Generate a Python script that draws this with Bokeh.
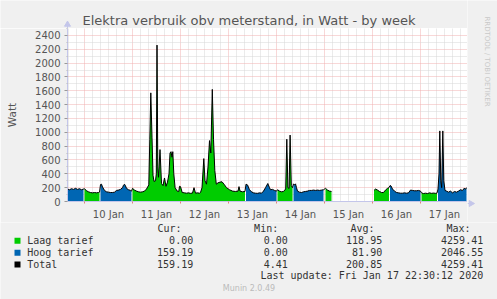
import math
from bokeh.plotting import figure
from bokeh.layouts import column, row
from bokeh.models import Range1d, FixedTicker, Label
from bokeh.embed import file_html
from bokeh.resources import INLINE

# ---------------- data (hours since Jan 10 2020 00:00) ----------------
title_text = "Elektra verbruik obv meterstand, in Watt - by week"
y_label = "Watt"
day_labels = ["10 Jan", "11 Jan", "12 Jan", "13 Jan", "14 Jan", "15 Jan", "16 Jan", "17 Jan"]
day_label_hours = [12, 36, 60, 84, 108, 132, 156, 180]
midnight_hours = [0, 24, 48, 72, 96, 120, 144, 168]
y_ticks = [0, 200, 400, 600, 800, 1000, 1200, 1400, 1600, 1800, 2000, 2200, 2400]

hours = (
    [-8.5, -7.5, -6.5, -5.5, -4.5, -3.5, -2.5, -1.5, -0.5]
    + [0, 1, 2, 3, 4, 5, 6, 7, 7.5]
    + [8, 8.5, 9, 10, 11, 12, 13, 14, 15, 16, 17, 18, 19, 19.5, 20, 20.5, 21, 22, 23, 23.5]
    + [24, 25, 26, 27, 28, 29, 30, 31, 32.15, 32.65, 33.15, 33.75, 34.25, 34.75,
       35.5, 35.9, 36.25, 36.65, 37, 37.75, 38.5, 39.25, 40, 40.75, 41.5,
       42.25, 42.75, 43.25, 43.75, 44.15, 44.65, 45.3, 46.35, 47.15, 47.5, 48, 48.85,
       50, 51, 52, 53, 54, 54.75, 55.5, 56.5, 57.5, 58, 58.75,
       59.65, 60.25, 61, 61.75, 62.5, 63.15, 63.9, 64.5, 65.15, 65.9, 66.75,
       67.75, 68.75, 69.75, 71, 72.5, 74, 75.5, 76.75, 77.25, 77.75, 79, 80.25]
    + [80.75, 81.5, 82.5, 83.5, 84.5, 85.5, 86.5, 87.5, 88.5, 89.5, 90.5, 91.65, 92.5, 93, 94, 95, 96]
    + [96.5, 97.5, 98.5, 99.5, 100.6, 101.15, 101.7, 102.3, 102.8, 103.4, 104]
    + [104.5, 105, 105.5, 106, 106.5, 107.5, 108.5, 109.5, 110.5, 111.5, 112.5, 113.5,
       114.5, 115.5, 116.5, 117.5, 118.5, 119.5]
    + [120.5, 121.5, 122.5, 123.5]
    + [134]
    + [144.75, 145.5, 146.5, 147.5, 148.5, 149.5, 150.5, 151.5, 152.25]
    + [152.75, 153.25, 154, 155, 156, 157, 158, 159, 160, 161, 162, 163, 164, 165, 166, 167, 168]
    + [168.5, 169.5, 170.5, 171.5, 172.5, 173.5, 174.5, 175.5, 176.25]
    + [176.75, 177.25, 177.65, 178.15, 178.6, 179.15, 179.65, 180.25, 181, 182, 183, 184,
       185, 186, 187, 188, 189, 190, 190.5, 191]
)

laag_tarief = (
    [None] * 9
    + [185, 155, 140, 130, 125, 130, 125, 130, 135]
    + [None] * 20
    + [190, 165, 150, 140, 135, 140, 150, 180, 240, 900, 1570, 930, 380, 290,
       300, 400, 2260, 500, 350, 750, 260, 230, 340, 220, 280,
       400, 700, 720, 640, 720, 400, 200, 150, 145, 220, 215, 130,
       125, 120, 125, 118, 122, 200, 120, 125, 120, 130, 200,
       620, 300, 250, 500, 880, 700, 1620, 900, 450, 250, 270,
       280, 285, 250, 200, 170, 150, 145, 150, 215, 150, 140, 145]
    + [None] * 17
    + [170, 150, 140, 145, 180, 900, 200, 190, 960, 230, 200]
    + [None] * 18
    + [190, 165, 150, 145]
    + [None]
    + [160, 180, 165, 145, 130, 130, 165, 190, 200]
    + [None] * 17
    + [125, 115, 120, 115, 125, 118, 122, 118, 120]
    + [None] * 20
)

hoog_tarief = (
    [180, 170, 185, 175, 190, 175, 185, 170, 180]
    + [None] * 9
    + [245, 250, 210, 160, 140, 135, 130, 130, 135, 160, 165, 175, 200, 235, 250, 225, 190, 170, 160, 150]
    + [None] * 71
    + [250, 240, 170, 140, 125, 120, 118, 125, 120, 150, 200, 260, 200, 170, 175, 160, 150]
    + [None] * 11
    + [255, 240, 255, 200, 150, 135, 130, 140, 145, 150, 160, 160, 165, 160, 165, 160, 165, 170]
    + [None] * 4
    + [None]
    + [None] * 9
    + [230, 225, 180, 150, 130, 125, 120, 120, 125, 120, 125, 165, 160, 155, 155, 160, 150]
    + [None] * 9
    + [180, 400, 1020, 300, 200, 1020, 300, 160, 150, 135, 150, 125, 145, 135, 150, 170, 160, 195, 175, 200]
)

assert len(hours) == len(laag_tarief) == len(hoog_tarief), (len(hours), len(laag_tarief), len(hoog_tarief))

legend_names = ["Laag tarief", "Hoog tarief", "Total"]
legend_colors = ["#00CC00", "#0066B3", "#000000"]
col_headers = ["Cur:", "Min:", "Avg:", "Max:"]
cur_vals = ["0.00", "159.19", "159.19"]
min_vals = ["0.00", "0.00", "4.41"]
avg_vals = ["118.95", "81.90", "200.85"]
max_vals = ["4259.41", "2046.55", "4259.41"]
last_update = "Last update: Fri Jan 17 22:30:12 2020"
munin_text = "Munin 2.0.49"
rrd_text = "RRDTOOL / TOBI OETIKER"

GREEN = "#00CC00"
BLUE = "#0066B3"
BG = "#F0F0F0"
AXIS_COL = "#C4C6EA"
TXT = "#555555"
LEG_COL = "#333333"
MONO = "DejaVu Sans Mono"
SANS = "DejaVu Sans"


def pixel_fig(w, h, x0, y0):
    """A figure whose data coordinates are canvas pixels (y downward)."""
    f = figure(width=w, height=h, output_backend="svg", toolbar_location=None,
               x_range=Range1d(x0, x0 + w), y_range=Range1d(y0 + h, y0),
               x_axis_type=None, y_axis_type=None,
               min_border_left=0, min_border_right=0, min_border_top=0, min_border_bottom=0)
    f.title.visible = False
    f.background_fill_color = BG
    f.border_fill_color = BG
    f.outline_line_color = None
    f.xgrid.visible = False
    f.ygrid.visible = False
    return f


# ---------------- header (title + y arrow) ----------------
head = pixel_fig(467, 28, 0, 0)
head.add_layout(Label(x=248.5, y=19.5, text=title_text, text_align="center",
                      text_baseline="middle", text_font=SANS,
                      text_font_size="13px", text_color=TXT))
head.segment(x0=[67], y0=[25], x1=[67], y1=[28], line_color=AXIS_COL, line_width=1)
head.scatter(x=[67], y=[24], marker="triangle", size=6, fill_color=AXIS_COL, line_color=AXIS_COL)

# ---------------- main plot ----------------
X0, X1 = -8.5, 191.5
p = figure(width=467, height=194, output_backend="svg", toolbar_location=None,
           x_range=Range1d(X0, X1), y_range=Range1d(0, 2500),
           min_border_left=67, min_border_right=0, min_border_top=0, min_border_bottom=19)
p.title.visible = False
p.background_fill_color = "white"
p.border_fill_color = BG
p.outline_line_color = None

p.xgrid.ticker = FixedTicker(ticks=midnight_hours,
                             minor_ticks=[h for h in range(-8, 192, 4) if h % 24 != 0])
p.ygrid.ticker = FixedTicker(ticks=y_ticks, minor_ticks=[v for v in range(100, 2600, 200)])
for g in (p.xgrid, p.ygrid):
    g.grid_line_color = "#F0B0B0"
    g.grid_line_dash = "1 1"
    g.grid_line_width = 1
    g.minor_grid_line_color = "#D6D6D6"
    g.minor_grid_line_dash = "1 1"
    g.minor_grid_line_width = 1

p.yaxis.ticker = FixedTicker(ticks=y_ticks, minor_ticks=[v for v in range(100, 2600, 200)])
p.yaxis.major_label_text_font = SANS
p.yaxis.major_label_text_font_size = "10px"
p.yaxis.major_label_text_color = TXT
p.yaxis.axis_line_color = AXIS_COL
p.yaxis.major_tick_line_color = "#999999"
p.yaxis.major_tick_out = 3
p.yaxis.major_tick_in = 0
p.yaxis.minor_tick_line_color = "#BBBBBB"
p.yaxis.minor_tick_out = 1
p.yaxis.minor_tick_in = 0
p.yaxis.major_label_standoff = 4
p.yaxis.axis_label = y_label
p.yaxis.axis_label_text_font = SANS
p.yaxis.axis_label_text_font_size = "10.5px"
p.yaxis.axis_label_text_font_style = "normal"
p.yaxis.axis_label_text_color = TXT
p.yaxis.axis_label_standoff = 14

p.xaxis.ticker = FixedTicker(ticks=day_label_hours, minor_ticks=midnight_hours)
p.xaxis.major_label_overrides = {h: lab for h, lab in zip(day_label_hours, day_labels)}
p.xaxis.major_label_text_font = SANS
p.xaxis.major_label_text_font_size = "10px"
p.xaxis.major_label_text_color = TXT
p.xaxis.axis_line_color = AXIS_COL
p.xaxis.major_tick_line_color = None
p.xaxis.major_tick_out = 0
p.xaxis.major_tick_in = 0
p.xaxis.minor_tick_line_color = "#E08080"
p.xaxis.minor_tick_out = 2
p.xaxis.minor_tick_in = 0
p.xaxis.major_label_standoff = 5


def segments(vals):
    segs, cur = [], []
    for h, v in zip(hours, vals):
        if v is None:
            if cur:
                segs.append(cur)
                cur = []
        else:
            cur.append((h, v))
    if cur:
        segs.append(cur)
    return segs


for seg in segments(laag_tarief):
    p.varea(x=[a for a, _ in seg], y1=0, y2=[b for _, b in seg], fill_color=GREEN, fill_alpha=1)
for seg in segments(hoog_tarief):
    p.varea(x=[a for a, _ in seg], y1=0, y2=[b for _, b in seg], fill_color=BLUE, fill_alpha=1)

total = []
for l, h in zip(laag_tarief, hoog_tarief):
    if l is None and h is None:
        total.append(float("nan"))
    else:
        total.append((l or 0) + (h or 0))
p.line(hours, total, line_color="black", line_width=1)

# ---------------- right strip (watermark + x arrow) ----------------
side = pixel_fig(30, 222, 467, 0)
side.add_layout(Label(x=486, y=61, text=rrd_text, angle=-math.pi / 2,
                      text_align="center", text_baseline="middle", text_font=SANS,
                      text_font_size="7px", text_color="#C8C8C8"))
side.segment(x0=[467], y0=[203], x1=[469], y1=[203], line_color=AXIS_COL, line_width=1)
side.scatter(x=[470.5], y=[203], marker="triangle", angle=-math.pi / 2, size=6,
             fill_color=AXIS_COL, line_color=AXIS_COL)

# ---------------- legend strip ----------------
leg = pixel_fig(497, 77, 0, 222)
header_right = [181, 277.7, 374, 470]
value_right = [192.7, 287.3, 381.7, 482.7]
for txt, xr in zip(col_headers, header_right):
    leg.add_layout(Label(x=xr, y=227.6, text=txt, text_align="right",
                         text_baseline="middle", text_font=MONO,
                         text_font_size="10px", text_color=LEG_COL))
row_mid = [239.8, 251.8, 263.6]
for i, name in enumerate(legend_names):
    ym = row_mid[i]
    leg.quad(left=[14], right=[20], top=[ym - 2.5], bottom=[ym + 3.5],
             fill_color=legend_colors[i], line_color=None)
    leg.add_layout(Label(x=26.7, y=ym, text=name, text_align="left",
                         text_baseline="middle", text_font=MONO,
                         text_font_size="10px", text_color=LEG_COL))
    for vals, xr in zip((cur_vals, min_vals, avg_vals, max_vals), value_right):
        leg.add_layout(Label(x=xr, y=ym, text=vals[i], text_align="right",
                             text_baseline="middle", text_font=MONO,
                             text_font_size="10px", text_color=LEG_COL))
leg.add_layout(Label(x=482.7, y=275.3, text=last_update, text_align="right",
                     text_baseline="middle", text_font=MONO,
                     text_font_size="10px", text_color=LEG_COL))
leg.add_layout(Label(x=248.5, y=288.2, text=munin_text, text_align="center",
                     text_baseline="middle", text_font=SANS,
                     text_font_size="8px", text_color="#BBBBBB"))

layout = column(row(column(row(head), p), side), leg)
open("out.html", "w").write(file_html(layout, INLINE))
